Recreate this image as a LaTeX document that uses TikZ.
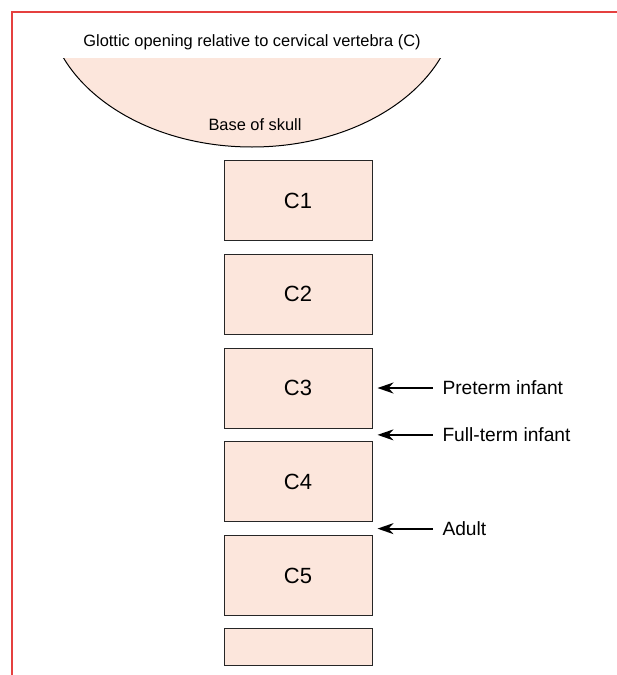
\documentclass[tikz,border=0pt]{standalone}
\usepackage{fontspec}
\setmainfont{Liberation Sans}
\usetikzlibrary{arrows.meta,calc}
\definecolor{skin}{HTML}{FCE6DC}
\definecolor{framered}{HTML}{E5403F}
\tikzstyle{every node}=[font=\fontsize{16.4}{19}\selectfont]
\tikzstyle{vertebra}=[rectangle,
                      draw=black!85,
                      line width=1pt,
                      minimum width=148pt,
                      minimum height=80pt,
                      fill=skin,
                      font=\fontsize{22}{25}\selectfont]
\tikzstyle{agegroup}=[anchor=west,
                      inner xsep=10pt,
                      outer sep=0pt,
                      font=\fontsize{19.2}{22}\selectfont]
\tikzstyle{pointer}=[->,line width=1.8pt]
\begin{document}
\begin{tikzpicture}[x=1pt,y=-1pt,node distance=93.75pt,>={Stealth[length=16pt,width=11pt,inset=5pt]}]
\useasboundingbox (0,0) rectangle (617,675);
\draw[framered,line width=1.5pt] (617,12) -- (12,12) -- (12,675);
% base of skull
\begin{scope}
\clip (0,58) rectangle (617,200);
\filldraw[fill=skin,draw=black,line width=1pt] (252,0) ellipse [x radius=205, y radius=147];
\end{scope}
\node (title) at (252,42) {Glottic opening relative to cervical vertebra (C)};
\node (skull) at (255,125) {Base of skull};
% vertebrae
\node (C1) [vertebra] at (298,200.5) {C1};
\node (C2) [vertebra,below of=C1] {C2};
\node (C3) [vertebra,below of=C2] {C3};
\node (C4) [vertebra,below of=C3] {C4};
\node (C5) [vertebra,below of=C4] {C5};
\node (C6) [vertebra,minimum height=37pt,below of=C5,node distance=71.5pt] {};
% glottis levels
\coordinate (tip3) at ($(C3.east)+(5pt,0)$);
\coordinate (tip34) at ($(C3.east)!0.5!(C4.east)+(5pt,0)$);
\coordinate (tip45) at ($(C4.east)!0.5!(C5.east)+(5pt,0)$);
\node (preterm) [agegroup] at ($(tip3)+(55pt,0)$) {Preterm infant};
\node (fullterm) [agegroup] at ($(tip34)+(55pt,0)$) {Full-term infant};
\node (adult) [agegroup] at ($(tip45)+(55pt,0)$) {Adult};
\draw[pointer] (preterm) -- (tip3);
\draw[pointer] (fullterm) -- (tip34);
\draw[pointer] (adult) -- (tip45);
\end{tikzpicture}
\end{document}
